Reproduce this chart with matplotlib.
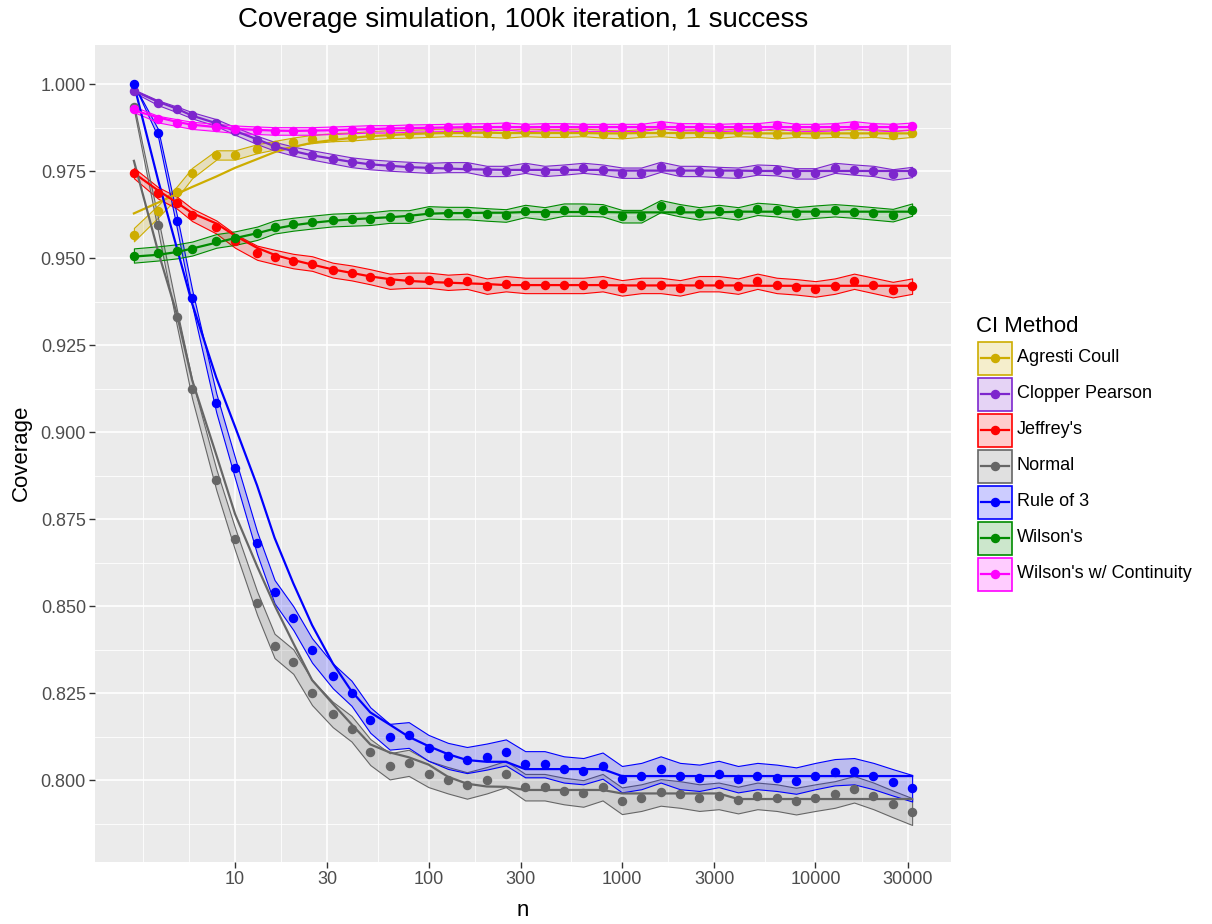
import numpy as np
import matplotlib
matplotlib.use("Agg")
import matplotlib.pyplot as plt
from matplotlib.colors import to_rgba
from matplotlib.patches import Rectangle
from matplotlib.lines import Line2D

plt.rcParams['font.family'] = ['Liberation Sans', 'DejaVu Sans']

# ---------------------------------------------------------------- data
iterations = 100000
band_z = 3  # ribbon: coverage +/- z * binomial standard error

n_values = [3, 4, 5, 6, 8, 10, 13, 16, 20, 25, 32, 40, 50, 63, 79, 100, 126, 158,
            200, 251, 316, 398, 501, 631, 794, 1000, 1259, 1585, 1995, 2512, 3162,
            3981, 5012, 6310, 7943, 10000, 12589, 15849, 19953, 25119, 31623]

methods = ["Agresti Coull", "Clopper Pearson", "Jeffrey's", "Normal",
           "Rule of 3", "Wilson's", "Wilson's w/ Continuity"]
colors = ["#CDAD00", "#7D26CD", "#FF0000", "#666666", "#0000FF", "#008B00", "#FF00FF"]

agresti_cov = [0.9568, 0.9635, 0.9690, 0.9745, 0.9797, 0.9797, 0.9815, 0.9825, 0.9835,
               0.9843, 0.9848, 0.9850, 0.9854, 0.9857, 0.9858, 0.9860, 0.9862, 0.9862,
               0.9860, 0.9858, 0.9862, 0.9860, 0.9860, 0.9862, 0.9858, 0.9856, 0.9860,
               0.9862, 0.9858, 0.9860, 0.9858, 0.9862, 0.9860, 0.9856, 0.9860, 0.9858,
               0.9860, 0.9858, 0.9860, 0.9855, 0.9860]
agresti_trend = [0.9629, 0.9660, 0.9685, 0.9705, 0.9735, 0.9760, 0.9785, 0.9805, 0.9820,
                 0.9832, 0.9840, 0.9846, 0.9851, 0.9854, 0.9857, 0.9859, 0.9860, 0.9860,
                 0.9861, 0.9860, 0.9860, 0.9860, 0.9860, 0.9860, 0.9859, 0.9859, 0.9860,
                 0.9860, 0.9860, 0.9860, 0.9860, 0.9859, 0.9859, 0.9859, 0.9859, 0.9859,
                 0.9859, 0.9859, 0.9859, 0.9859, 0.9859]

clopper_cov = [0.9981, 0.9947, 0.9928, 0.9911, 0.9890, 0.9866, 0.9840, 0.9822, 0.9808,
               0.9797, 0.9786, 0.9776, 0.9770, 0.9766, 0.9763, 0.9760, 0.9762, 0.9762,
               0.9751, 0.9751, 0.9760, 0.9751, 0.9755, 0.9760, 0.9755, 0.9746, 0.9746,
               0.9763, 0.9751, 0.9751, 0.9748, 0.9746, 0.9755, 0.9753, 0.9744, 0.9744,
               0.9760, 0.9755, 0.9751, 0.9741, 0.9748]
clopper_trend = [0.9981, 0.9950, 0.9930, 0.9910, 0.9888, 0.9866, 0.9842, 0.9822, 0.9808,
                 0.9796, 0.9786, 0.9777, 0.9770, 0.9766, 0.9762, 0.9760, 0.9758, 0.9756,
                 0.9755, 0.9754, 0.9754, 0.9754, 0.9754, 0.9754, 0.9754, 0.9752, 0.9752,
                 0.9752, 0.9752, 0.9752, 0.9752, 0.9752, 0.9751, 0.9751, 0.9751, 0.9751,
                 0.9751, 0.9751, 0.9751, 0.9751, 0.9751]

jeffreys_cov = [0.9745, 0.9688, 0.9660, 0.9625, 0.9590, 0.9550, 0.9516, 0.9504, 0.9492,
                0.9485, 0.9466, 0.9458, 0.9447, 0.9434, 0.9437, 0.9437, 0.9431, 0.9434,
                0.9420, 0.9427, 0.9422, 0.9422, 0.9422, 0.9422, 0.9427, 0.9415, 0.9422,
                0.9422, 0.9415, 0.9427, 0.9427, 0.9420, 0.9434, 0.9422, 0.9418, 0.9412,
                0.9420, 0.9434, 0.9422, 0.9410, 0.9420]
jeffreys_trend = [0.9745, 0.9695, 0.9660, 0.9630, 0.9600, 0.9565, 0.9530, 0.9510, 0.9495,
                  0.9482, 0.9468, 0.9458, 0.9448, 0.9440, 0.9435, 0.9432, 0.9430, 0.9428,
                  0.9426, 0.9423, 0.9423, 0.9423, 0.9423, 0.9423, 0.9423, 0.9422, 0.9422,
                  0.9422, 0.9422, 0.9422, 0.9422, 0.9422, 0.9421, 0.9421, 0.9421, 0.9421,
                  0.9421, 0.9421, 0.9421, 0.9421, 0.9421]

normal_cov = [0.9935, 0.9597, 0.9330, 0.9123, 0.8864, 0.8693, 0.8509, 0.8386, 0.8341,
              0.8252, 0.8189, 0.8148, 0.8081, 0.8040, 0.8050, 0.8018, 0.8000, 0.7985,
              0.8000, 0.8018, 0.7980, 0.7980, 0.7969, 0.7962, 0.7980, 0.7941, 0.7950,
              0.7965, 0.7959, 0.7950, 0.7955, 0.7943, 0.7955, 0.7950, 0.7940, 0.7950,
              0.7959, 0.7974, 0.7955, 0.7932, 0.7910]
normal_trend = [0.9780, 0.9520, 0.9340, 0.9150, 0.8935, 0.8765, 0.8615, 0.8503, 0.8394,
                0.8288, 0.8220, 0.8161, 0.8103, 0.8080, 0.8066, 0.8045, 0.8010, 0.7990,
                0.7982, 0.7981, 0.7972, 0.7972, 0.7972, 0.7972, 0.7972, 0.7962, 0.7962,
                0.7962, 0.7962, 0.7962, 0.7962, 0.7946, 0.7946, 0.7946, 0.7946, 0.7946,
                0.7946, 0.7946, 0.7946, 0.7946, 0.7946]

rule3_cov = [1.0000, 0.9860, 0.9606, 0.9387, 0.9084, 0.8897, 0.8682, 0.8542, 0.8466,
             0.8373, 0.8300, 0.8250, 0.8173, 0.8125, 0.8130, 0.8093, 0.8070, 0.8058,
             0.8068, 0.8080, 0.8046, 0.8046, 0.8031, 0.8026, 0.8042, 0.8003, 0.8012,
             0.8031, 0.8012, 0.8007, 0.8018, 0.8003, 0.8012, 0.8007, 0.7999, 0.8012,
             0.8023, 0.8026, 0.8012, 0.7994, 0.7977]
rule3_trend = [1.0000, 0.9725, 0.9530, 0.9370, 0.9157, 0.9016, 0.8847, 0.8697, 0.8566,
               0.8446, 0.8336, 0.8256, 0.8195, 0.8160, 0.8125, 0.8098, 0.8075, 0.8058,
               0.8053, 0.8053, 0.8032, 0.8032, 0.8032, 0.8032, 0.8032, 0.8012, 0.8012,
               0.8012, 0.8012, 0.8012, 0.8012, 0.8012, 0.8012, 0.8012, 0.8012, 0.8012,
               0.8012, 0.8012, 0.8012, 0.8012, 0.8012]

wilson_cov = [0.9508, 0.9514, 0.9520, 0.9528, 0.9550, 0.9558, 0.9572, 0.9590, 0.9598,
              0.9604, 0.9610, 0.9612, 0.9614, 0.9620, 0.9620, 0.9632, 0.9630, 0.9630,
              0.9626, 0.9623, 0.9636, 0.9629, 0.9640, 0.9640, 0.9638, 0.9621, 0.9621,
              0.9650, 0.9638, 0.9629, 0.9636, 0.9629, 0.9642, 0.9638, 0.9629, 0.9634,
              0.9638, 0.9634, 0.9629, 0.9624, 0.9640]
wilson_trend = [0.9505, 0.9510, 0.9518, 0.9528, 0.9545, 0.9558, 0.9572, 0.9585, 0.9595,
                0.9602, 0.9608, 0.9612, 0.9615, 0.9618, 0.9622, 0.9628, 0.9630, 0.9630,
                0.9631, 0.9631, 0.9633, 0.9633, 0.9633, 0.9633, 0.9633, 0.9632, 0.9632,
                0.9632, 0.9632, 0.9632, 0.9632, 0.9634, 0.9634, 0.9634, 0.9634, 0.9634,
                0.9634, 0.9634, 0.9634, 0.9634, 0.9634]

wilsoncc_cov = [0.9928, 0.9900, 0.9890, 0.9882, 0.9876, 0.9871, 0.9868, 0.9866, 0.9866,
                0.9866, 0.9868, 0.9870, 0.9872, 0.9872, 0.9874, 0.9875, 0.9876, 0.9877,
                0.9878, 0.9880, 0.9876, 0.9878, 0.9878, 0.9876, 0.9876, 0.9876, 0.9876,
                0.9884, 0.9878, 0.9878, 0.9876, 0.9878, 0.9878, 0.9884, 0.9876, 0.9876,
                0.9878, 0.9884, 0.9878, 0.9876, 0.9880]
wilsoncc_trend = [0.9925, 0.9905, 0.9892, 0.9884, 0.9877, 0.9872, 0.9869, 0.9867, 0.9866,
                  0.9867, 0.9868, 0.9870, 0.9871, 0.9873, 0.9874, 0.9875, 0.9876, 0.9877,
                  0.9877, 0.9877, 0.9877, 0.9877, 0.9877, 0.9877, 0.9877, 0.9877, 0.9877,
                  0.9877, 0.9877, 0.9877, 0.9877, 0.9877, 0.9877, 0.9877, 0.9877, 0.9877,
                  0.9877, 0.9877, 0.9877, 0.9877, 0.9877]

coverage = [agresti_cov, clopper_cov, jeffreys_cov, normal_cov, rule3_cov, wilson_cov, wilsoncc_cov]
trends = [agresti_trend, clopper_trend, jeffreys_trend, normal_trend, rule3_trend,
          wilson_trend, wilsoncc_trend]

x_major = [10, 30, 100, 300, 1000, 3000, 10000, 30000]
y_major = [0.800, 0.825, 0.850, 0.875, 0.900, 0.925, 0.950, 0.975, 1.000]

title = "Coverage simulation, 100k iteration, 1 success"

# ---------------------------------------------------------------- figure
W, H = 1212, 924
fig = plt.figure(figsize=(W / 100, H / 100), dpi=100)
fig.patch.set_facecolor("white")

px_l, px_r, px_t, px_b = 95, 951, 45, 862
ax = fig.add_axes([px_l / W, 1 - px_b / H, (px_r - px_l) / W, (px_b - px_t) / H])
ax.set_facecolor("#EBEBEB")
for s in ax.spines.values():
    s.set_visible(False)

ax.set_xscale("log")
ax.set_xlim(10 ** 0.276, 10 ** 4.701)
ax.set_ylim(0.7765, 1.0113)

# grid: major breaks plus midway minor breaks (in log space on x)
lx = np.log10(x_major)
step = lx[1] - lx[0]
x_ext = np.concatenate([[lx[0] - step], lx])
x_minor = [(a + b) / 2 for a, b in zip(x_ext[:-1], x_ext[1:])] + [x_ext[0]]
for v in x_minor:
    ax.axvline(10 ** v, color="white", lw=0.6, zorder=0)
for v in x_major:
    ax.axvline(v, color="white", lw=1.2, zorder=0)
y_ext = [y_major[0] - 0.025] + y_major
for a, b in zip(y_ext[:-1], y_ext[1:]):
    ax.axhline((a + b) / 2, color="white", lw=0.6, zorder=0)
for v in y_major:
    ax.axhline(v, color="white", lw=1.2, zorder=0)

ax.set_xticks(x_major)
ax.set_xticklabels([str(v) for v in x_major])
ax.xaxis.set_minor_locator(matplotlib.ticker.NullLocator())
ax.set_yticks(y_major)
ax.set_yticklabels([f"{v:.3f}" for v in y_major])
ax.tick_params(axis="both", length=4, width=1, color="#333333",
               labelcolor="#4D4D4D", labelsize=13, pad=2.5)

n_arr = np.array(n_values, dtype=float)
for i, (cov, tr, col) in enumerate(zip(coverage, trends, colors)):
    p = np.array(cov)
    se = np.sqrt(p * (1 - p) / iterations)
    ax.fill_between(n_arr, p - band_z * se, p + band_z * se,
                    facecolor=to_rgba(col, 0.2), edgecolor=col, linewidth=0.8,
                    zorder=2 + i * 0.01)
for i, (tr, col) in enumerate(zip(trends, colors)):
    ax.plot(n_arr, tr, color=col, lw=1.6, zorder=3 + i * 0.01, solid_joinstyle="round")
for i, (cov, col) in enumerate(zip(coverage, colors)):
    ax.plot(n_arr, cov, linestyle="none", marker="o", markersize=5.8,
            markerfacecolor=col, markeredgecolor=col, zorder=4 + i * 0.01)

# ---------------------------------------------------------------- text
fig.text(523 / W, 1 - 20 / H, title, ha="center", va="center", fontsize=19.9, color="black")
fig.text(523 / W, 1 - 911 / H, "n", ha="center", va="center", fontsize=16, color="black")
fig.text(21 / W, 1 - 453 / H, "Coverage", ha="center", va="center", rotation=90,
         fontsize=16, color="black")

# ---------------------------------------------------------------- legend
lg = fig.add_axes([0, 0, 1, 1], facecolor="none")
lg.set_xlim(0, W)
lg.set_ylim(H, 0)
lg.axis("off")
lg.text(976, 326, "CI Method", ha="left", va="center", fontsize=16, color="black")
key_x0, key_w, key_h, pitch, first_y = 978, 34, 33, 36, 358
for i, (name, col) in enumerate(zip(methods, colors)):
    cy = first_y + i * pitch
    lg.add_patch(Rectangle((key_x0, cy - key_h / 2), key_w, key_h,
                           facecolor=to_rgba(col, 0.2), edgecolor=col, linewidth=1.2))
    lg.add_line(Line2D([key_x0 + 3, key_x0 + key_w - 3], [cy, cy], color=col, lw=1.6))
    lg.plot([key_x0 + key_w / 2], [cy], marker="o", markersize=5.8, color=col)
    lg.text(1017, cy, name, ha="left", va="center", fontsize=13, color="black")

fig.savefig("out.png", dpi=100)
